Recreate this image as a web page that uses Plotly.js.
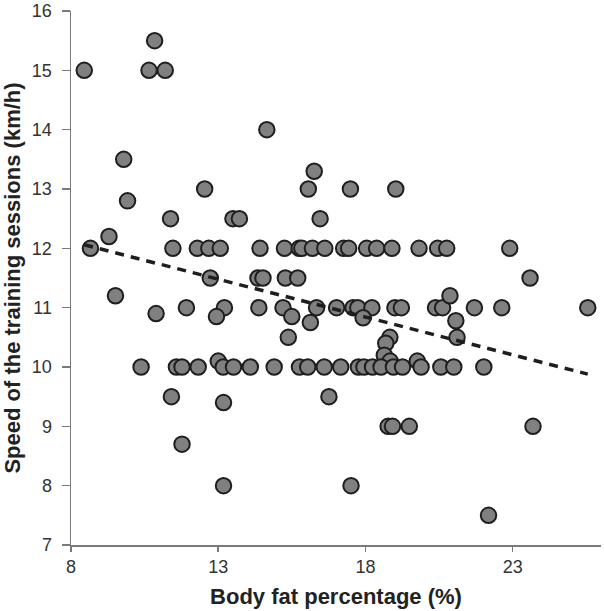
<!DOCTYPE html>
<html>
<head>
<meta charset="utf-8">
<script src="https://cdn.plot.ly/plotly-3.0.1.min.js"></script>
<style>html,body{margin:0;padding:0;background:#fff;}#chart{width:604px;height:611px;}</style>
</head>
<body>
<div id="chart"></div>
<script>
var bodyFat = [
  8.45, 10.84, 10.65, 11.2, 14.65, 9.79, 9.92, 12.54, 16.26, 16.06, 17.49, 19.03,
  11.38, 13.5, 13.72, 16.46,
  8.66, 9.29, 11.46, 12.29, 12.68, 13.07, 14.42, 15.25, 15.75, 15.84, 16.2, 16.62, 17.26, 17.43, 18.04, 18.38, 18.9, 19.82, 20.45, 20.76, 22.9,
  12.73, 14.35, 14.52, 15.28, 15.7, 23.59,
  9.51, 10.89, 11.92, 13.21, 12.94, 14.38, 15.2, 15.5, 15.38, 16.13, 16.34, 17.02, 17.58, 17.74, 18.22, 17.92, 19.0, 19.22, 20.38, 20.62, 21.7, 22.63, 25.55,
  20.87, 21.07, 21.11, 18.83, 18.69, 18.64, 18.84, 19.76,
  10.38, 11.58, 11.77, 12.32, 13.0, 13.17, 13.52, 14.09, 14.9, 15.76, 16.04, 16.6, 17.16, 17.76, 17.95, 18.24, 18.53, 18.95, 19.26, 19.89, 20.56, 21.0, 22.02,
  11.41, 13.18, 16.76, 11.77, 13.18, 18.77, 18.92, 19.49, 23.69, 17.51, 22.18
];
var speed = [
  15, 15.5, 15, 15, 14, 13.5, 12.8, 13, 13.3, 13, 13, 13,
  12.5, 12.5, 12.5, 12.5,
  12, 12.2, 12, 12, 12, 12, 12, 12, 12, 12, 12, 12, 12, 12, 12, 12, 12, 12, 12, 12, 12,
  11.5, 11.5, 11.5, 11.5, 11.5, 11.5,
  11.2, 10.9, 11, 11, 10.85, 11, 11, 10.85, 10.5, 10.75, 11, 11, 11, 11, 11, 10.83, 11, 11, 11, 11, 11, 11, 11,
  11.2, 10.78, 10.5, 10.5, 10.4, 10.2, 10.1, 10.1,
  10, 10, 10, 10, 10.1, 10, 10, 10, 10, 10, 10, 10, 10, 10, 10, 10, 10, 10, 10, 10, 10, 10, 10,
  9.5, 9.4, 9.5, 8.7, 8, 9, 9, 9, 9, 8, 7.5
];
var trendX = [8.45, 25.55];
var trendY = [12.06, 9.88];
var xTicks = [8, 13, 18, 23];
var yTicks = [7, 8, 9, 10, 11, 12, 13, 14, 15, 16];

var font = 'Liberation Sans, Arial, sans-serif';
var data = [
  {
    x: bodyFat, y: speed, type: 'scatter', mode: 'markers',
    marker: {size: 15.5, color: '#808080', line: {color: '#1e1e1e', width: 2}},
    hoverinfo: 'x+y'
  },
  {
    x: trendX, y: trendY, type: 'scatter', mode: 'lines',
    line: {color: '#1e1e1e', width: 3.5, dash: '9px,7px'},
    hoverinfo: 'skip'
  }
];
var layout = {
  width: 604, height: 611,
  margin: {l: 71, r: 3, t: 11, b: 66},
  showlegend: false,
  paper_bgcolor: '#fff', plot_bgcolor: '#fff',
  font: {family: font, color: '#333'},
  xaxis: {
    range: [8, 26], tickvals: xTicks, ticktext: xTicks.map(String),
    showgrid: false, zeroline: false, showline: true, linecolor: '#7a7a7a', linewidth: 1.5,
    ticks: 'outside', ticklen: 5, tickwidth: 1.5, tickcolor: '#7a7a7a',
    tickfont: {size: 18, color: '#333', family: font},
    title: {text: '<b>Body fat percentage (%)</b>', font: {size: 22, color: '#222', family: font}, standoff: 12}
  },
  yaxis: {
    range: [7, 16], tickvals: yTicks, ticktext: yTicks.map(String),
    showgrid: false, zeroline: false, showline: true, linecolor: '#7a7a7a', linewidth: 1.5,
    ticks: 'outside', ticklen: 8, tickwidth: 1.5, tickcolor: '#7a7a7a',
    ticklabelstandoff: 6,
    tickfont: {size: 18, color: '#333', family: font},
    title: {text: '<b>Speed of the training sessions (km/h)</b>', font: {size: 22, color: '#222', family: font}, standoff: 8}
  }
};
Plotly.newPlot('chart', data, layout, {displayModeBar: false, staticPlot: true});
</script>
</body>
</html>
